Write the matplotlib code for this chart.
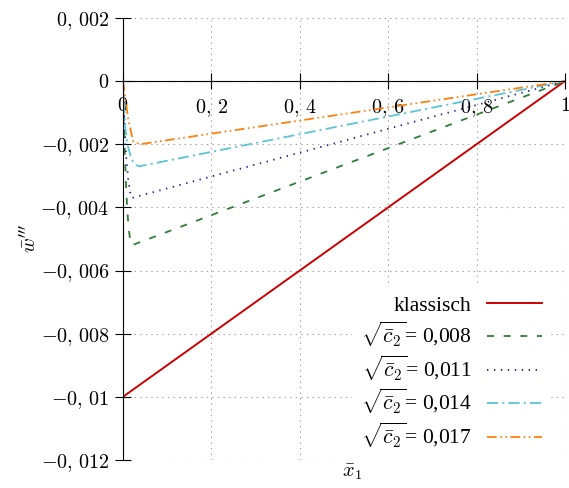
import numpy as np
import matplotlib
matplotlib.use("Agg")
import matplotlib.pyplot as plt

plt.rcParams["mathtext.fontset"] = "cm"
plt.rcParams["font.family"] = ["Liberation Serif", "DejaVu Serif"]
plt.rcParams["lines.scale_dashes"] = False

# Daten
x_klassisch = [0.0, 1.0]
y_klassisch = [-0.01, 0.0]

x_008 = [0.0, 0.004, 0.008, 0.012, 0.016, 0.02, 1.0]
y_008 = [0.0, -0.0022, -0.0036, -0.0045, -0.0050, -0.0052, 0.0]

x_011 = [0.0, 0.004, 0.008, 0.012, 0.016, 0.02, 1.0]
y_011 = [0.0, -0.0015, -0.0025, -0.0031, -0.0035, -0.0037, 0.0]

x_014 = [0.0, 0.005, 0.01, 0.02, 0.03, 0.036, 1.0]
y_014 = [0.0, -0.0014, -0.0020, -0.0025, -0.00265, -0.0027, 0.0]

x_017 = [0.0, 0.004, 0.012, 0.023, 0.038, 1.0]
y_017 = [0.0, -0.0004, -0.0012, -0.0019, -0.0020, 0.0]

xticks = [0, 0.2, 0.4, 0.6, 0.8, 1.0]
xtick_labels = ["$0$", "$0,\\,2$", "$0,\\,4$", "$0,\\,6$", "$0,\\,8$", "$1$"]
yticks = [0.002, 0, -0.002, -0.004, -0.006, -0.008, -0.01, -0.012]
ytick_labels = ["$0,\\,002$", "$0$", "$-0,\\,002$", "$-0,\\,004$", "$-0,\\,006$",
                "$-0,\\,008$", "$-0,\\,01$", "$-0,\\,012$"]

fig = plt.figure(figsize=(5.69, 4.88), dpi=100)
ax = fig.add_axes([0.216, 0.0574, 0.7768, 0.9057])

ax.plot(x_klassisch, y_klassisch, color="#cc0000", lw=1.4, label="klassisch")
ax.plot(x_008, y_008, color="#2e7d3a", lw=1.3, dashes=(5, 7),
        label=r"$\sqrt{\bar{c}_2}$= 0,008")
ax.plot(x_011, y_011, color="#1f1f8f", lw=1.3, dashes=(1, 4),
        label=r"$\sqrt{\bar{c}_2}$= 0,011")
ax.plot(x_014, y_014, color="#5bc4d6", lw=1.3, dashes=(8, 3, 1.5, 3),
        label=r"$\sqrt{\bar{c}_2}$= 0,014")
ax.plot(x_017, y_017, color="#ff7f0e", lw=1.3, dashes=(7, 2.5, 1.2, 2.5, 1.2, 2.5),
        label=r"$\sqrt{\bar{c}_2}$= 0,017")

ax.set_xlim(0, 1)
ax.set_ylim(-0.012, 0.002)

ax.spines["top"].set_visible(False)
ax.spines["right"].set_visible(False)
ax.spines["bottom"].set_position(("data", 0))
ax.spines["left"].set_position(("data", 0))

ax.set_xticks(xticks)
ax.set_xticklabels(xtick_labels)
ax.set_yticks(yticks)
ax.set_yticklabels(ytick_labels)
ax.tick_params(direction="inout", length=11, width=0.8, labelsize=14.5, pad=4)
ax.tick_params(axis="x", pad=6)

ax.grid(True, linestyle=(0, (1, 3)), color="#a0a0a0", lw=0.8)

ax.set_xlabel(r"$\bar{x}_1$", fontsize=14.5, labelpad=0)
ax.xaxis.set_label_coords(0.518, -0.005, transform=ax.transAxes)
ax.set_ylabel(r"$\bar{w}'''$", fontsize=14.5)
ax.yaxis.set_label_coords(-0.185, 0.5)

leg = ax.legend(loc="lower right", bbox_to_anchor=(0.967, 0.003), borderaxespad=0,
                markerfirst=False, frameon=True, fancybox=False, edgecolor="white",
                framealpha=1, fontsize=15.5, handlelength=2.55, handletextpad=0.7,
                labelspacing=0.2)

fig.savefig("out.png", dpi=100)
